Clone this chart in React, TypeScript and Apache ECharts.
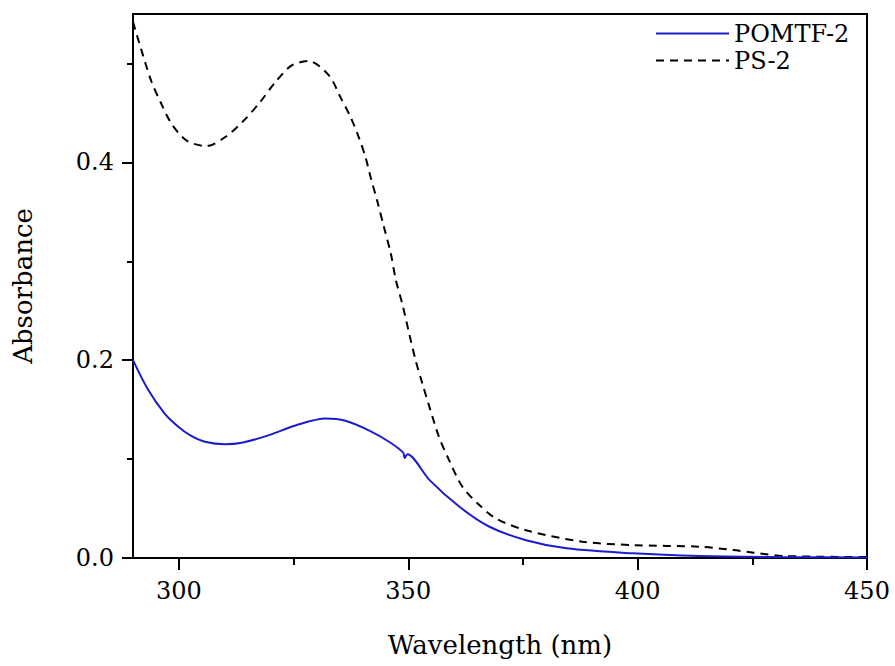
import React, { useEffect, useRef } from "react";
import * as echarts from "echarts";

const xTicks = [300, 350, 400, 450];
const xMinorTicks = [325, 375, 425];
const yTicks = [0, 0.2, 0.4];
const yMinorTicks = [0.1, 0.3, 0.5];

const seriesNames = ["POMTF-2", "PS-2"];

const pomtfX = [290, 293.3, 296.9, 299.8, 302.5, 305.7, 310.1, 313.7, 319.5, 325.4, 332, 336.3, 341.4, 345.8, 348.9, 349.2, 349.8, 354.6, 361.1, 367.7, 375.7, 384.5, 399, 413.6, 430, 450];
const pomtfY = [0.2, 0.17, 0.146, 0.133, 0.124, 0.1175, 0.115, 0.1165, 0.124, 0.134, 0.141, 0.1387, 0.129, 0.1175, 0.1065, 0.101, 0.105, 0.079, 0.052, 0.0316, 0.018, 0.0098, 0.0047, 0.002, 0.001, 0.0005];

const psX = [290, 291.8, 294, 296.2, 298.4, 301.7, 306, 310.1, 314.1, 317.7, 321, 324.6, 328.3, 332.7, 335.2, 337.4, 339.2, 340.7, 341.8, 343.2, 344.7, 346.2, 347.3, 348.7, 350.2, 351.6, 353.1, 354.6, 356.7, 358.9, 361.8, 365.5, 369.1, 375.7, 388, 399, 413.6, 420.9, 425.3, 432, 450];
const psY = [0.542, 0.514, 0.482, 0.459, 0.439, 0.422, 0.4165, 0.4256, 0.442, 0.461, 0.481, 0.498, 0.5024, 0.488, 0.466, 0.446, 0.4256, 0.405, 0.385, 0.3616, 0.3347, 0.3078, 0.281, 0.257, 0.227, 0.2, 0.176, 0.153, 0.1225, 0.099, 0.072, 0.0535, 0.04, 0.028, 0.0165, 0.013, 0.0114, 0.008, 0.0054, 0.002, 0.001];

const FONT = "DejaVu Serif";

export default function App() {
  const ref = useRef<HTMLDivElement>(null);
  useEffect(() => {
    const chart = echarts.init(ref.current!, null, { renderer: "svg" });
    const tickStyle = { color: "#000", width: 2 };
    chart.setOption({
      animation: false,
      backgroundColor: "#fff",
      grid: {
        left: 133,
        right: 28,
        top: 14,
        bottom: 108,
        show: true,
        borderColor: "#000",
        borderWidth: 2,
        backgroundColor: "transparent",
      },
      legend: {
        data: seriesNames,
        orient: "vertical",
        left: 650,
        top: 15,
        itemWidth: 73,
        itemHeight: 14,
        itemGap: 0,
        itemStyle: { opacity: 0 },
        textStyle: { fontSize: 24, fontFamily: FONT, color: "#000", lineHeight: 27 },
      },
      xAxis: [
        {
          type: "value",
          min: 290,
          max: 450,
          position: "bottom",
          axisLine: { show: true, onZero: false, lineStyle: tickStyle },
          axisTick: { show: true, inside: false, length: 12, lineStyle: tickStyle, customValues: xTicks },
          axisLabel: { customValues: xTicks, margin: 21, fontSize: 24, fontFamily: FONT, color: "#000" },
          splitLine: { show: false },
          name: "Wavelength (nm)",
          nameLocation: "middle",
          nameGap: 74,
          nameTextStyle: { fontSize: 26, fontFamily: FONT, color: "#000" },
        },
        {
          type: "value",
          min: 290,
          max: 450,
          position: "bottom",
          axisLine: { show: false },
          axisTick: { show: true, inside: false, length: 7, lineStyle: tickStyle, customValues: xMinorTicks },
          axisLabel: { show: false },
          splitLine: { show: false },
        },
      ],
      yAxis: [
        {
          type: "value",
          min: 0,
          max: 0.55,
          position: "left",
          axisLine: { show: true, onZero: false, lineStyle: tickStyle },
          axisTick: { show: true, inside: false, length: 11, lineStyle: tickStyle, customValues: yTicks },
          axisLabel: {
            customValues: yTicks,
            margin: 19,
            fontSize: 24,
            fontFamily: FONT,
            color: "#000",
            formatter: (v: number) => v.toFixed(1),
          },
          splitLine: { show: false },
          name: "Absorbance",
          nameLocation: "middle",
          nameGap: 97,
          nameTextStyle: { fontSize: 26, fontFamily: FONT, color: "#000" },
        },
        {
          type: "value",
          min: 0,
          max: 0.55,
          position: "left",
          axisLine: { show: false },
          axisTick: { show: true, inside: false, length: 6, lineStyle: tickStyle, customValues: yMinorTicks },
          axisLabel: { show: false },
          splitLine: { show: false },
        },
      ],
      series: [
        {
          name: seriesNames[0],
          type: "line",
          xAxisIndex: 0,
          yAxisIndex: 0,
          data: pomtfX.map((x, i) => [x, pomtfY[i]]),
          symbol: "none",
          showSymbol: false,
          smooth: 0.3,
          lineStyle: { color: "#1c1ccc", width: 2 },
          itemStyle: { color: "#1c1ccc" },
          z: 3,
        },
        {
          name: seriesNames[1],
          type: "line",
          xAxisIndex: 0,
          yAxisIndex: 0,
          data: psX.map((x, i) => [x, psY[i]]),
          symbol: "none",
          showSymbol: false,
          smooth: 0.3,
          lineStyle: { color: "#000", width: 2, type: [8, 6] },
          itemStyle: { color: "#000" },
          z: 2,
        },
      ],
    });
    return () => chart.dispose();
  }, []);
  return <div ref={ref} style={{ position: "fixed", left: 0, top: 0, width: 895, height: 666 }} />;
}
